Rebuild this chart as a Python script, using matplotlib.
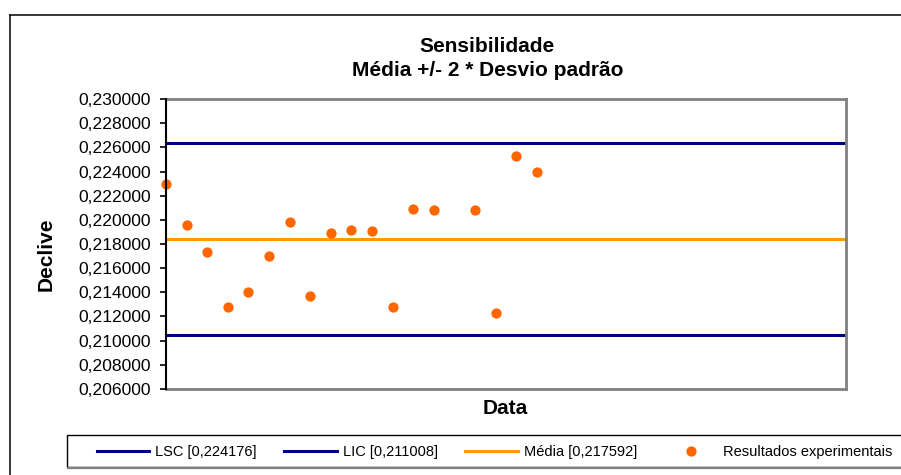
#!/usr/bin/env python3

import matplotlib
matplotlib.use("Agg")
import matplotlib.pyplot as plt
from matplotlib.ticker import FuncFormatter, MultipleLocator
from matplotlib.patches import Rectangle
from matplotlib.lines import Line2D

plt.rcParams['font.family'] = ['Liberation Sans', 'DejaVu Sans']

# data
posicao = [0, 1, 2, 3, 4, 5, 6, 7, 8, 9, 10, 11, 12, 13, 15, 16, 17, 18]
declive = [0.22294, 0.21960, 0.21734, 0.21279, 0.21400, 0.21701, 0.21985,
           0.21367, 0.21891, 0.21916, 0.21905, 0.21276, 0.22090, 0.22081,
           0.22085, 0.21226, 0.22528, 0.22396]

lsc = 0.22633
lic = 0.21044
media = 0.21838

rotulos = ['LSC [0,224176]', 'LIC [0,211008]', 'Média [0,217592]',
           'Resultados experimentais']

AZUL = '#000080'
LARANJA = '#FF9900'
PONTO = '#FF6600'

W, H = 901, 475


def main():
    fig = plt.figure(figsize=(W / 100, H / 100), dpi=100)
    ax = fig.add_axes([166 / W, 1 - 389 / H, 680 / W, 290 / H])

    l1 = ax.axhline(lsc, color=AZUL, lw=2.2)
    l2 = ax.axhline(lic, color=AZUL, lw=2.2)
    l3 = ax.axhline(media, color=LARANJA, lw=2.2)
    pts, = ax.plot(posicao, declive, 'o', color=PONTO, markersize=7.4,
                   markeredgewidth=0, clip_on=False, zorder=5)

    ax.set_xlim(0, 33)
    ax.set_ylim(0.206, 0.230)
    ax.yaxis.set_major_locator(MultipleLocator(0.002))
    ax.yaxis.set_major_formatter(
        FuncFormatter(lambda v, p: f"{v:.6f}".replace('.', ',')))
    ax.tick_params(axis='y', labelsize=12.6, length=4, width=1.2, pad=7,
                   direction='out', color='black')
    ax.set_xticks([])

    for s in ['top', 'right', 'bottom']:
        ax.spines[s].set_color('#808080')
        ax.spines[s].set_linewidth(2.0)
    ax.spines['left'].set_color('black')
    ax.spines['left'].set_linewidth(1.5)
    ax.spines['left'].set_zorder(6)

    fig.text(487.5 / W, 1 - 51.7 / H, 'Sensibilidade', ha='center',
             va='baseline', fontsize=15, fontweight='bold')
    fig.text(487.5 / W, 1 - 76 / H, 'Média +/- 2 * Desvio padrão',
             ha='center', va='baseline', fontsize=15, fontweight='bold')
    fig.text(46 / W, 1 - 254 / H, 'Declive', rotation=90, ha='center',
             va='center', fontsize=15, fontweight='bold')
    fig.text(505 / W, 1 - 409 / H, 'Data', ha='center', va='center',
             fontsize=15, fontweight='bold')

    # outer chart border (runs off the right and bottom edges)
    fig.add_artist(Line2D([10 / W, 10 / W], [1 - 15 / H, -0.05],
                          color='black', lw=1.1))
    fig.add_artist(Line2D([10 / W, 1.05], [1 - 15 / H, 1 - 15 / H],
                          color='black', lw=1.1))

    # legend box
    fig.add_artist(Rectangle((67.3 / W, 1 - 466.7 / H), 1.0, 31.7 / H,
                             transform=fig.transFigure, fill=False,
                             edgecolor='black', lw=1.0))
    fig.add_artist(Line2D([68 / W, 1.05], [1 - 467.5 / H, 1 - 467.5 / H],
                          color='#808080', lw=1.6))

    fig.legend([l1, l2, l3, pts], rotulos, ncol=4, frameon=False,
               loc='center left', bbox_to_anchor=(96.7 / W, 1 - 451.7 / H),
               borderpad=0, borderaxespad=0, fontsize=10.5,
               handlelength=3.6, handletextpad=0.4, columnspacing=1.9)

    fig.savefig('out.png', dpi=100)


if __name__ == "__main__":
    main()
